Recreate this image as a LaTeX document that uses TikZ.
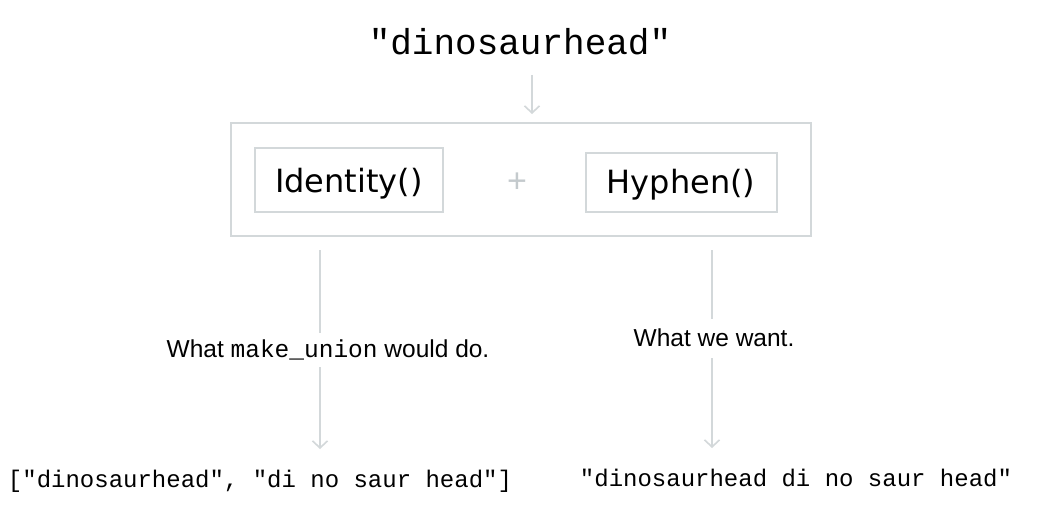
\documentclass[tikz,border=0pt]{standalone}
\usepackage{fontspec}
\setmainfont{Liberation Sans}
\setmonofont{Liberation Mono}
\newfontfamily\handfont{DejaVu Sans}[Scale=1]
\usetikzlibrary{arrows.meta}
\definecolor{linegray}{HTML}{D3D8DA}
\definecolor{plusgray}{HTML}{C4CACD}
\tikzset{
  conn/.style={draw=linegray, line width=2pt, -{Straight Barb[length=7pt,width=15pt,line width=1.6pt]}},
  plain/.style={draw=linegray, line width=2pt},
  box/.style={draw=linegray, line width=2.2pt},
  code/.style={font=\ttfamily\fontsize{24}{28}\selectfont, inner sep=0pt},
  lbl/.style={font=\fontsize{24.5}{28}\selectfont, inner sep=4pt, fill=white},
  hand/.style={font=\handfont\fontsize{32}{36}\selectfont, inner sep=0pt}
}
\begin{document}
\begin{tikzpicture}[x=1pt,y=-1pt]
\useasboundingbox[fill=white] (0,0) rectangle (1045,511);
% title
\node[font=\ttfamily\fontsize{36}{40}\selectfont, inner sep=0pt] (title) at (520,42) {"dinosaurhead"};
% outer box
\node[box, minimum width=580pt, minimum height=113pt, inner sep=0pt] (outer) at (521,179.5) {};
% inner boxes
\node[box, minimum width=188pt, minimum height=64pt, inner sep=0pt] (ident) at (349,180) {};
\node[hand] (identt) at (349,184) {Identity()};
\node[box, minimum width=191pt, minimum height=59pt, inner sep=0pt] (hyph) at (681.5,182.5) {};
\node[hand] (hypht) at (681,185) {Hyphen()};
\node[font=\fontsize{34}{36}\selectfont, text=plusgray, inner sep=0pt] (plus) at (517,183) {+};
% labels
\node[lbl] (lab1) at (328,350) {What \texttt{make\_union} would do.};
\node[lbl] (lab2) at (714,338) {What we want.};
% results
\node[code] (res1) at (260,481) {["dinosaurhead", "di no saur head"]};
\node[code] (res2) at (796,478) {"dinosaurhead di no saur head"};
% connector coordinates
\coordinate (a1) at (532,75);
\coordinate (a2) at (532,114);
\coordinate (l1) at (320,250);
\coordinate (l2) at (320,333);
\coordinate (l3) at (320,367);
\coordinate (l4) at (320,449);
\coordinate (r1) at (712,250);
\coordinate (r2) at (712,319);
\coordinate (r3) at (712,358);
\coordinate (r4) at (712,448);
\draw[conn] (a1) -- (a2);
\draw[plain] (l1) -- (l2);
\draw[conn] (l3) -- (l4);
\draw[plain] (r1) -- (r2);
\draw[conn] (r3) -- (r4);
\end{tikzpicture}
\end{document}
